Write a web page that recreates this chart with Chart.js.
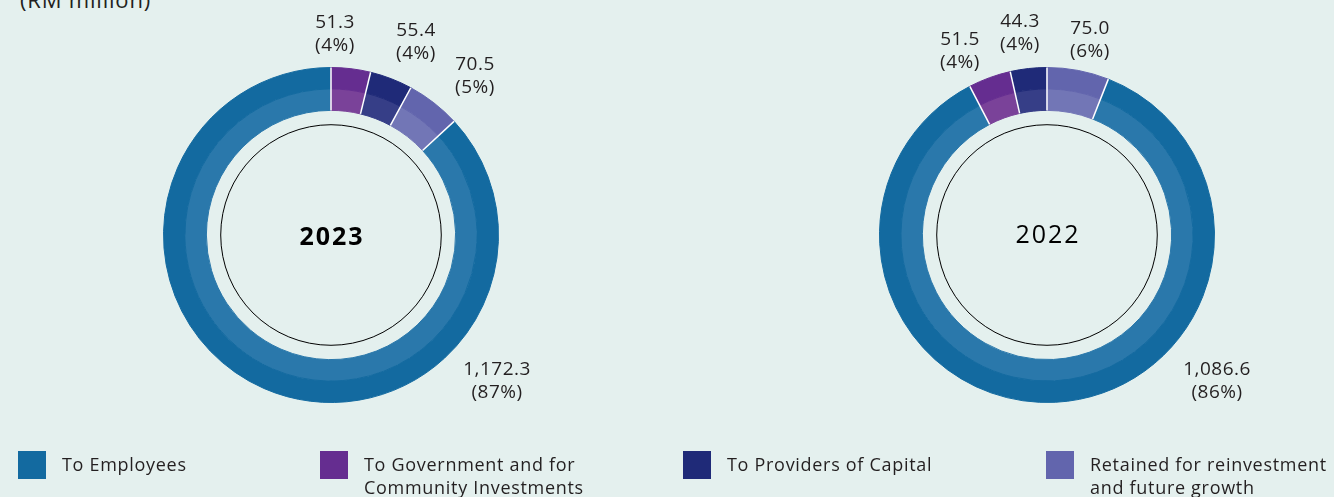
<!DOCTYPE html>
<html>
<head>
<meta charset="utf-8">
<script src="https://cdn.jsdelivr.net/npm/chart.js@4.4.0/dist/chart.umd.min.js"></script>
<style>
  body { margin: 0; width: 1334px; height: 497px; background: #e4f0ee; overflow: hidden; position: relative; font-family: "Open Sans", sans-serif; color: #231f20; }
  .unit { position: absolute; left: 20px; top: -16px; font-size: 22px; letter-spacing: 0.8px; }
  .wrap { position: absolute; top: 0; width: 560px; height: 497px; }
  #wrap2023 { left: 51px; }
  #wrap2022 { left: 767px; }
  .item { position: absolute; top: 451px; }
  .item .sw { position: absolute; left: 0; top: 0; width: 28px; height: 28px; }
  .item .tx { position: absolute; left: 44px; top: 2px; font-size: 18px; line-height: 23px; letter-spacing: 0.7px; }
</style>
</head>
<body>
<div class="unit">(RM million)</div>
<div class="wrap" id="wrap2023"><canvas id="chart2023" width="560" height="497"></canvas></div>
<div class="wrap" id="wrap2022"><canvas id="chart2022" width="560" height="497"></canvas></div>
<div id="legend"></div>
<script>
// categories and values (RM million)
const categories = ['To Employees', 'To Government and for Community Investments', 'To Providers of Capital', 'Retained for reinvestment and future growth'];
const values2023 = [1172.3, 51.3, 55.4, 70.5];
const values2022 = [1086.6, 51.5, 44.3, 75.0];

// outer band colours and lighter inner band colours
const darkColors = ['#136aa0', '#652d90', '#1f2a78', '#6265ad'];
const lightColors = ['#2a78ab', '#7a4299', '#363e87', '#7276b6'];

// label anchor offsets from chart centre, per category
const labelOffsets2023 = [[166, 146], [4, -201], [85, -193], [144, -159]];
const labelOffsets2022 = [[170, 146], [-87, -184], [-27, -202], [43, -195]];

// legend column lefts and text widths
const legendLeft = [18, 320, 683, 1046];
const legendWidth = [200, 235, 260, 245];

const ringExtras = {
    id: 'ringExtras',
    afterDatasetsDraw(chart, args, opts) {
        const ctx = chart.ctx;
        const outer = chart.getDatasetMeta(0).data;
        const inner = chart.getDatasetMeta(1).data;
        const cx = outer[0].x, cy = outer[0].y;
        ctx.save();
        // white separators between slices
        ctx.strokeStyle = '#ffffff';
        ctx.lineWidth = 1.5;
        outer.forEach((arc, i) => {
            const a = arc.startAngle;
            const r0 = inner[i].innerRadius, r1 = arc.outerRadius;
            ctx.beginPath();
            ctx.moveTo(cx + r0 * Math.cos(a), cy + r0 * Math.sin(a));
            ctx.lineTo(cx + r1 * Math.cos(a), cy + r1 * Math.sin(a));
            ctx.stroke();
        });
        // thin inner circle
        ctx.strokeStyle = '#000000';
        ctx.lineWidth = 1;
        ctx.beginPath();
        ctx.arc(cx, cy, inner[0].innerRadius * 0.885, 0, Math.PI * 2);
        ctx.stroke();
        // year in the middle
        ctx.fillStyle = '#000000';
        ctx.textAlign = 'center';
        ctx.textBaseline = 'middle';
        ctx.letterSpacing = '2px';
        ctx.font = opts.bold ? 'bold 25px "Open Sans"' : '25px "Open Sans"';
        ctx.fillText(opts.year, cx + 1, cy + opts.yearDy);
        // value labels
        const vals = chart.data.datasets[0].data;
        const total = vals.reduce((s, v) => s + v, 0);
        ctx.fillStyle = '#231f20';
        ctx.letterSpacing = '0.5px';
        ctx.font = '19px "Open Sans"';
        vals.forEach((v, i) => {
            const [dx, dy] = opts.offsets[i];
            const txt = v.toLocaleString('en-US', { minimumFractionDigits: 1, maximumFractionDigits: 1 });
            const pct = '(' + Math.round(v / total * 100) + '%)';
            ctx.fillText(txt, cx + dx, cy + dy - 11);
            ctx.fillText(pct, cx + dx, cy + dy + 12);
        });
        ctx.restore();
    }
};

function makeChart(id, values, rotation, year, bold, yearDy, offsets) {
    const ctx = document.getElementById(id).getContext('2d');
    return new Chart(ctx, {
        type: 'doughnut',
        data: {
            labels: categories,
            datasets: [
                { data: values, backgroundColor: darkColors, borderColor: darkColors, borderWidth: 1 },
                { data: values, backgroundColor: lightColors, borderColor: lightColors, borderWidth: 1 }
            ]
        },
        options: {
            responsive: false,
            animation: false,
            rotation: rotation,
            cutout: '74.4%',
            layout: { padding: { top: 67, bottom: 94, left: 0, right: 0 } },
            plugins: {
                legend: { display: false },
                tooltip: { enabled: false },
                ringExtras: { year: year, bold: bold, yearDy: yearDy, offsets: offsets }
            }
        },
        plugins: [ringExtras]
    });
}

function sum(arr) { return arr.reduce((s, v) => s + v, 0); }

// 2023 starts with Government at 12 o'clock; 2022 starts with Retained at 12 o'clock
makeChart('chart2023', values2023, -values2023[0] / sum(values2023) * 360, '2023', true, 3, labelOffsets2023);
makeChart('chart2022', values2022, values2022[3] / sum(values2022) * 360, '2022', false, 1, labelOffsets2022);

// legend
const legend = document.getElementById('legend');
categories.forEach((c, i) => {
    const item = document.createElement('div');
    item.className = 'item';
    item.style.left = legendLeft[i] + 'px';
    item.innerHTML = '<div class="sw" style="background:' + darkColors[i] + '"></div><div class="tx" style="width:' + legendWidth[i] + 'px">' + c + '</div>';
    legend.appendChild(item);
});
</script>
</body>
</html>
